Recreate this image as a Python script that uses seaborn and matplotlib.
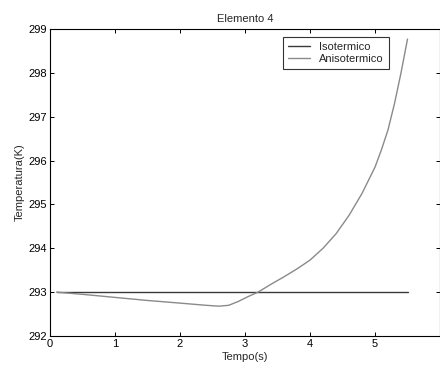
import matplotlib
matplotlib.use("Agg")
import matplotlib.pyplot as plt
import seaborn as sns
import pandas as pd

# Data
t_iso = [0.1, 5.5]
T_iso = [293.0, 293.0]

t_aniso = [0.1, 0.5, 1.0, 1.5, 2.0, 2.4, 2.6, 2.75, 2.9, 3.05, 3.2, 3.4, 3.6,
           3.8, 4.0, 4.2, 4.4, 4.6, 4.8, 5.0, 5.1, 5.2, 5.3, 5.4, 5.5]
T_aniso = [293.0, 292.95, 292.88, 292.81, 292.75, 292.7, 292.68, 292.7, 292.79,
           292.9, 293.0, 293.18, 293.35, 293.53, 293.73, 294.0, 294.33, 294.75,
           295.25, 295.85, 296.25, 296.7, 297.3, 298.0, 298.77]

labels = ["Isotermico", "Anisotermico"]
x_ticks = [0, 1, 2, 3, 4, 5]
y_ticks = [292, 293, 294, 295, 296, 297, 298, 299]

df = pd.concat([
    pd.DataFrame({"t": t_iso, "T": T_iso, "serie": labels[0]}),
    pd.DataFrame({"t": t_aniso, "T": T_aniso, "serie": labels[1]}),
])

sns.set_style("ticks")
plt.rcParams["font.family"] = ["Liberation Sans", "DejaVu Sans"]
plt.rcParams["font.size"] = 8

fig = plt.figure(figsize=(4.4, 3.69), dpi=100)
ax = fig.add_axes([50/440, 1 - 336/369, 390/440, 307/369])

sns.lineplot(data=df, x="t", y="T", hue="serie", sort=False,
             palette={labels[0]: "#3a3a3a", labels[1]: "#8a8a8a"},
             linewidth=1.0, ax=ax, estimator=None)

ax.set_xlim(0, 6)
ax.set_ylim(292, 299)
ax.set_xticks(x_ticks)
ax.set_yticks(y_ticks)
ax.tick_params(direction="in", length=3, width=0.7, top=True, right=True,
               labelsize=8, pad=2, colors="black")
for s in ax.spines.values():
    s.set_visible(True)
    s.set_linewidth(0.8)
    s.set_color("black")

ax.set_title("Elemento 4", fontsize=8, pad=5)
ax.set_xlabel("Tempo(s)", fontsize=8, labelpad=2)
ax.set_ylabel("Temperatura(K)", fontsize=8, labelpad=3)

leg = ax.legend(loc="upper right", bbox_to_anchor=(0.869, 0.974),
                frameon=True, fancybox=False, fontsize=8, handlelength=2.0,
                borderpad=0.45, labelspacing=0.2, handletextpad=0.8,
                borderaxespad=0)
leg.get_frame().set_edgecolor("black")
leg.get_frame().set_linewidth(0.8)
leg.set_title(None)

fig.savefig("out.png", dpi=100)
